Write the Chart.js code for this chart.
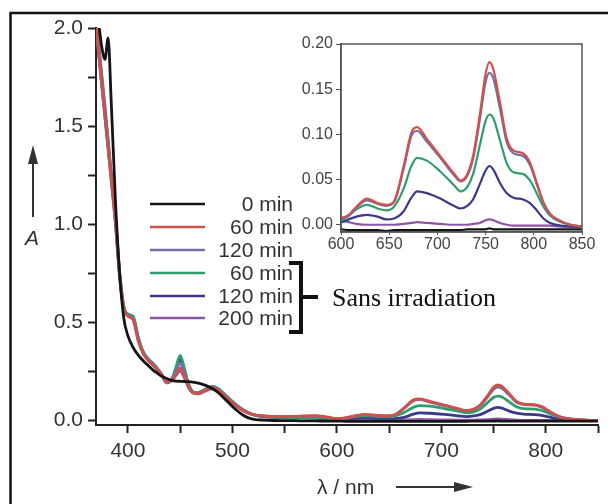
<!DOCTYPE html>
<html><head><meta charset="utf-8">
<script src="https://cdn.jsdelivr.net/npm/chart.js@4"></script>
<style>
html,body{margin:0;padding:0;background:#fff;}
#wrap{position:relative;width:608px;height:504px;overflow:hidden;background:#fff;}
#main{position:absolute;left:0;top:0;}
#inset{position:absolute;left:280px;top:30px;}
</style></head><body>
<div id="wrap"><canvas id="main" width="608" height="504"></canvas><canvas id="inset" width="320" height="230"></canvas></div>
<script>
// ---- data ----
const wavelengths = [369,372,375,378,381,384,388,392,396,400,405,410,415,420,424,428,432,437,442,446,450,454,458,462,466,470,475,481,486,492,498,504,510,516,522,530,540,550,560,570,580,590,600,608,616,627,638,647,655,665,673,679,689,703,717,724,731,737,744,750,754,758,765,772,779,789,796,803,810,817,828,838,850];

const abs0min = [2.10,2.02,1.90,1.84,1.95,1.62,1.12,0.75,0.52,0.43,0.37,0.33,0.30,0.275,0.255,0.24,0.225,0.212,0.203,0.199,0.198,0.197,0.196,0.194,0.19,0.185,0.176,0.16,0.142,0.112,0.08,0.05,0.026,0.01,0.003,0.0,-0.002,-0.003,-0.003,-0.004,-0.004,-0.005,-0.005,-0.006,-0.006,-0.006,-0.006,-0.007,-0.006,-0.006,-0.006,-0.006,-0.006,-0.006,-0.006,-0.006,-0.005,-0.005,-0.005,-0.005,-0.004,-0.005,-0.005,-0.005,-0.005,-0.005,-0.005,-0.005,-0.005,-0.005,-0.005,-0.005,-0.005];

const abs60minIrr = [2.05,1.88,1.72,1.56,1.40,1.24,1.02,0.74,0.57,0.53,0.51,0.40,0.335,0.30,0.28,0.26,0.235,0.195,0.20,0.235,0.265,0.225,0.17,0.14,0.135,0.14,0.155,0.165,0.155,0.128,0.098,0.072,0.05,0.035,0.026,0.021,0.019,0.018,0.019,0.022,0.023,0.016,0.008,0.011,0.020,0.029,0.024,0.022,0.026,0.065,0.102,0.108,0.095,0.076,0.057,0.049,0.056,0.076,0.122,0.167,0.180,0.172,0.135,0.095,0.082,0.079,0.069,0.047,0.025,0.012,0.004,0.0,-0.002];

const abs120minIrr = [2.02,1.86,1.70,1.54,1.38,1.22,1.00,0.73,0.57,0.535,0.515,0.41,0.34,0.305,0.285,0.262,0.235,0.192,0.205,0.25,0.29,0.24,0.175,0.142,0.137,0.143,0.158,0.168,0.158,0.13,0.10,0.073,0.05,0.034,0.025,0.02,0.017,0.016,0.017,0.019,0.02,0.014,0.007,0.010,0.019,0.027,0.023,0.021,0.025,0.062,0.098,0.104,0.092,0.074,0.055,0.048,0.054,0.073,0.116,0.158,0.168,0.162,0.128,0.091,0.079,0.076,0.066,0.045,0.024,0.011,0.004,0.0,-0.002];

const abs60minDark = [2.05,1.90,1.74,1.58,1.42,1.25,1.03,0.75,0.58,0.54,0.53,0.42,0.345,0.31,0.29,0.265,0.235,0.19,0.21,0.27,0.33,0.265,0.185,0.145,0.14,0.146,0.16,0.172,0.163,0.135,0.105,0.078,0.054,0.037,0.026,0.019,0.016,0.014,0.013,0.013,0.012,0.009,0.005,0.010,0.017,0.022,0.018,0.016,0.020,0.040,0.065,0.074,0.071,0.059,0.044,0.037,0.042,0.056,0.088,0.115,0.122,0.118,0.093,0.068,0.058,0.056,0.049,0.035,0.020,0.010,0.003,0.0,-0.002];

const abs120minDark = [2.03,1.87,1.71,1.55,1.39,1.23,1.01,0.74,0.575,0.54,0.525,0.415,0.34,0.305,0.287,0.262,0.233,0.19,0.207,0.26,0.31,0.25,0.18,0.143,0.138,0.144,0.158,0.17,0.16,0.132,0.102,0.075,0.052,0.035,0.024,0.017,0.014,0.012,0.011,0.011,0.01,0.007,0.003,0.006,0.009,0.011,0.009,0.006,0.007,0.015,0.030,0.037,0.035,0.029,0.021,0.018,0.021,0.028,0.045,0.060,0.065,0.061,0.046,0.035,0.030,0.028,0.024,0.016,0.007,0.002,-0.001,-0.002,-0.003];

const abs200minDark = [2.08,1.92,1.76,1.60,1.43,1.26,1.04,0.76,0.58,0.535,0.52,0.41,0.335,0.30,0.28,0.258,0.232,0.195,0.20,0.228,0.25,0.215,0.165,0.14,0.134,0.138,0.15,0.16,0.152,0.125,0.096,0.07,0.049,0.034,0.025,0.02,0.018,0.017,0.018,0.02,0.019,0.012,0.005,0.003,0.001,0.0,0.0,0.0,0.0,0.001,0.002,0.003,0.002,0.001,0.0,0.0,0.0,0.001,0.002,0.005,0.006,0.005,0.002,0.0,-0.001,-0.001,-0.001,-0.001,-0.001,-0.001,-0.002,-0.002,-0.002];

const seriesLabels = ['0 min','60 min','120 min','60 min','120 min','200 min'];
const mainYTicks = [0.0, 0.5, 1.0, 1.5, 2.0];
const mainXTicks = [400, 500, 600, 700, 800];

// ---- styles ----
const seriesValues = [abs0min, abs60minIrr, abs120minIrr, abs60minDark, abs120minDark, abs200minDark];
const seriesColors = ['#151515', '#d0504c', '#7270a6', '#2f9e6a', '#3c3a86', '#8c55a4'];
const FONT = "'Liberation Sans', Arial, Helvetica, sans-serif";

function makeDatasets(width) {
  return seriesValues.map((vals, i) => ({
    label: seriesLabels[i],
    data: wavelengths.map((w, k) => ({x: w, y: vals[k]})),
    borderColor: seriesColors[i],
    borderWidth: width,
    pointRadius: 0,
    fill: false,
    cubicInterpolationMode: 'monotone'
  }));
}

function near(v, arr) { return arr.some(a => Math.abs(a - v) < 1e-6); }

const mainDecor = {
  id: 'mainDecor',
  afterDraw(chart) {
    const ctx = chart.ctx;
    ctx.save();
    // outer frame (left/top visible)
    ctx.strokeStyle = '#111'; ctx.lineWidth = 2.5;
    ctx.beginPath(); ctx.moveTo(10.5, 520); ctx.lineTo(10.5, 13); ctx.lineTo(620, 13); ctx.stroke();

    // y title "A" with up arrow
    ctx.fillStyle = '#333'; ctx.strokeStyle = '#333';
    ctx.font = 'italic 21px ' + FONT;
    ctx.textAlign = 'center'; ctx.textBaseline = 'middle';
    ctx.fillText('A', 32, 239);
    ctx.lineWidth = 2;
    ctx.beginPath(); ctx.moveTo(33, 217); ctx.lineTo(33, 160); ctx.stroke();
    ctx.beginPath(); ctx.moveTo(33, 145); ctx.lineTo(28, 164); ctx.lineTo(38, 164); ctx.closePath(); ctx.fill();

    // x title with right arrow
    ctx.font = '21px ' + FONT;
    ctx.textAlign = 'left';
    ctx.fillText('λ / nm', 317, 488);
    ctx.beginPath(); ctx.moveTo(396, 487); ctx.lineTo(458, 487); ctx.stroke();
    ctx.beginPath(); ctx.moveTo(473, 487); ctx.lineTo(454, 482); ctx.lineTo(454, 492); ctx.closePath(); ctx.fill();

    // legend
    const rows = [204, 227, 250, 273, 296, 318];
    ctx.font = '21px ' + FONT;
    ctx.textAlign = 'right'; ctx.textBaseline = 'middle';
    seriesLabels.forEach((lab, i) => {
      ctx.strokeStyle = seriesColors[i]; ctx.lineWidth = 2.5;
      ctx.beginPath(); ctx.moveTo(150, rows[i]); ctx.lineTo(205, rows[i]); ctx.stroke();
      ctx.fillStyle = '#333';
      ctx.fillText(lab, 293, rows[i] + 1);
    });

    // bracket
    ctx.strokeStyle = '#111'; ctx.lineWidth = 4; ctx.lineJoin = 'miter';
    ctx.beginPath(); ctx.moveTo(289, 263); ctx.lineTo(301, 263); ctx.lineTo(301, 332); ctx.lineTo(289, 332); ctx.stroke();
    ctx.beginPath(); ctx.moveTo(301, 297); ctx.lineTo(318, 297); ctx.stroke();
    ctx.fillStyle = '#111';
    ctx.font = "26px 'Liberation Serif', 'Times New Roman', serif";
    ctx.textAlign = 'left'; ctx.textBaseline = 'alphabetic';
    ctx.fillText('Sans irradiation', 332, 306);
    ctx.restore();
  }
};

new Chart(document.getElementById('main'), {
  type: 'line',
  data: { datasets: makeDatasets(2.8) },
  options: {
    responsive: false, animation: false, devicePixelRatio: 1,
    layout: { padding: { top: 28, right: 10, left: 0, bottom: 0 } },
    plugins: { legend: { display: false }, tooltip: { enabled: false } },
    scales: {
      x: {
        type: 'linear', min: 369.4, max: 850,
        afterFit: s => { s.height = 79; },
        border: { display: true, color: '#222', width: 2 },
        grid: { drawOnChartArea: false, drawTicks: true, tickLength: 8, tickColor: '#222', tickWidth: 2 },
        ticks: { stepSize: 50, includeBounds: false, autoSkip: false, maxRotation: 0, padding: 6, color: '#333',
                 font: { family: FONT, size: 21 },
                 callback: v => near(v, mainXTicks) ? String(Math.round(v)) : '' }
      },
      y: {
        min: -0.025, max: 2.0,
        afterFit: s => { s.width = 96; },
        border: { display: true, color: '#222', width: 2 },
        grid: { drawOnChartArea: false, drawTicks: true, tickLength: 8, tickColor: '#222', tickWidth: 2 },
        ticks: { stepSize: 0.25, includeBounds: false, autoSkip: false, padding: 5, color: '#333',
                 font: { family: FONT, size: 21 },
                 callback: v => near(v, mainYTicks) ? v.toFixed(1) : '' }
      }
    }
  },
  plugins: [mainDecor]
});

const insetFrame = {
  id: 'insetFrame',
  afterDraw(chart) {
    const a = chart.chartArea, ctx = chart.ctx;
    ctx.save();
    ctx.strokeStyle = '#555'; ctx.lineWidth = 1.5;
    ctx.strokeRect(a.left, a.top, a.right - a.left, a.bottom - a.top);
    ctx.restore();
  }
};

new Chart(document.getElementById('inset'), {
  type: 'line',
  data: { datasets: makeDatasets(2.2) },
  options: {
    responsive: false, animation: false, devicePixelRatio: 1,
    layout: { padding: { top: 14, right: 18, left: 0, bottom: 0 } },
    plugins: { legend: { display: false }, tooltip: { enabled: false } },
    scales: {
      x: {
        type: 'linear', min: 600, max: 850,
        afterFit: s => { s.height = 28; },
        border: { display: true, color: '#555', width: 1.5 },
        grid: { drawOnChartArea: false, drawTicks: true, tickLength: 3, tickColor: '#555' },
        ticks: { stepSize: 50, autoSkip: false, maxRotation: 0, padding: 0, color: '#444',
                 font: { family: FONT, size: 16 }, callback: v => String(Math.round(v)) }
      },
      y: {
        min: -0.008, max: 0.2,
        afterFit: s => { s.width = 61; },
        border: { display: true, color: '#555', width: 1.5 },
        grid: { drawOnChartArea: false, drawTicks: true, tickLength: 5, tickColor: '#555' },
        ticks: { stepSize: 0.05, includeBounds: false, autoSkip: false, padding: 3, color: '#444',
                 font: { family: FONT, size: 16 }, callback: v => v.toFixed(2) }
      }
    }
  },
  plugins: [insetFrame]
});
</script>
</body></html>
